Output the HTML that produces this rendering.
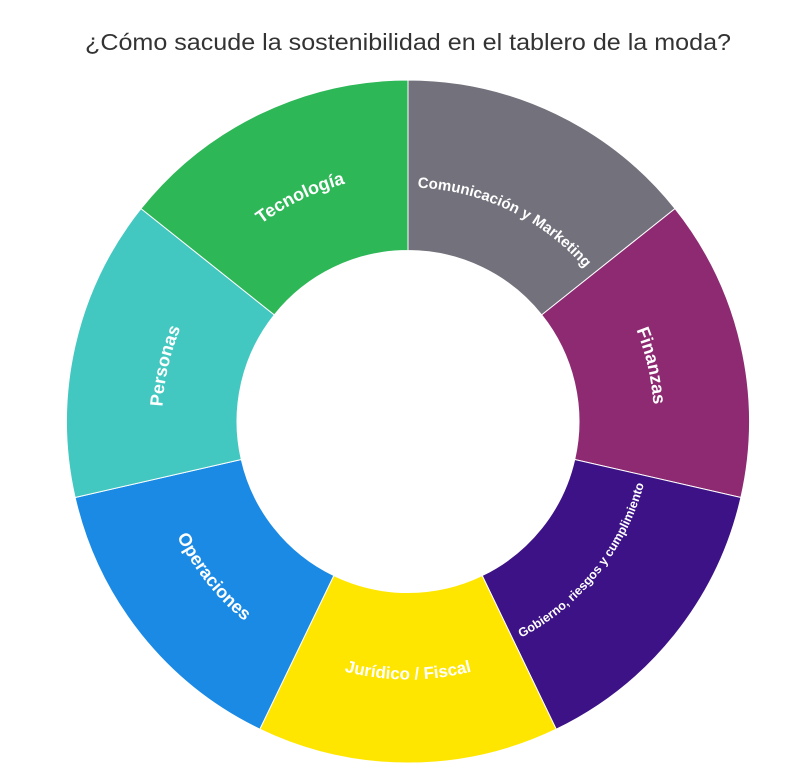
<!DOCTYPE html>
<html><head><meta charset="utf-8"><style>
html,body{margin:0;padding:0;background:#fff;}
svg{display:block;}
.l{fill:#fff;font-family:"Liberation Sans",sans-serif;font-weight:bold;}
</style></head><body>
<svg width="805" height="778" viewBox="0 0 805 778" xmlns="http://www.w3.org/2000/svg">
<text x="408" y="50" text-anchor="middle" font-family="'Liberation Sans',sans-serif" font-size="23" fill="#333" textLength="646" lengthAdjust="spacingAndGlyphs">¿Cómo sacude la sostenibilidad en el tablero de la moda?</text>
<g stroke="#fff" stroke-width="1">
<path d="M408,80 A341.5,341.5 0 0 1 675,208.6 L541.7,314.9 A171,171 0 0 0 408,250.5 Z" fill="#72717c"/>
<path d="M675,208.6 A341.5,341.5 0 0 1 740.9,497.5 L574.7,459.5 A171,171 0 0 0 541.7,314.9 Z" fill="#8e2a72"/>
<path d="M740.9,497.5 A341.5,341.5 0 0 1 556.2,729.2 L482.2,575.6 A171,171 0 0 0 574.7,459.5 Z" fill="#3c1286"/>
<path d="M556.2,729.2 A341.5,341.5 0 0 1 259.8,729.2 L333.8,575.6 A171,171 0 0 0 482.2,575.6 Z" fill="#ffe600"/>
<path d="M259.8,729.2 A341.5,341.5 0 0 1 75.1,497.5 L241.3,459.5 A171,171 0 0 0 333.8,575.6 Z" fill="#1a8ae4"/>
<path d="M75.1,497.5 A341.5,341.5 0 0 1 141,208.6 L274.3,314.9 A171,171 0 0 0 241.3,459.5 Z" fill="#42c8c0"/>
<path d="M141,208.6 A341.5,341.5 0 0 1 408,80 L408,250.5 A171,171 0 0 0 274.3,314.9 Z" fill="#2db757"/>
</g>
<defs>
<path id="p1" d="M175.8,340.2 A246,246 0 0 1 489.3,189.3"/>
<path id="p2" d="M330.7,200.6 A234,234 0 0 1 628.9,344.2"/>
<path id="p3" d="M538.7,213.1 A246,246 0 0 1 616.4,552.2"/>
<path id="p4" d="M199.6,552.2 A246,246 0 0 1 277.3,213.1"/>
<path id="p5" d="M225.6,603.9 A258,258 0 0 0 590.4,603.9"/>
<path id="p6" d="M151.6,392.7 A258,258 0 0 0 379.2,677.9"/>
<path id="p7" d="M435.2,664 A244,244 0 0 0 650.5,394.3"/>
</defs>
<text class="l" font-size="18"><textPath href="#p1" startOffset="50%" text-anchor="middle">Tecnología</textPath></text>
<text class="l" font-size="15"><textPath href="#p2" startOffset="50%" text-anchor="middle">Comunicación y Marketing</textPath></text>
<text class="l" font-size="18"><textPath href="#p3" startOffset="50%" text-anchor="middle">Finanzas</textPath></text>
<text class="l" font-size="18"><textPath href="#p4" startOffset="50%" text-anchor="middle">Personas</textPath></text>
<text class="l" font-size="17"><textPath href="#p5" startOffset="50%" text-anchor="middle">Jurídico / Fiscal</textPath></text>
<text class="l" font-size="18"><textPath href="#p6" startOffset="50%" text-anchor="middle">Operaciones</textPath></text>
<text class="l" font-size="12.5"><textPath href="#p7" startOffset="50%" text-anchor="middle">Gobierno, riesgos y cumplimiento</textPath></text>
</svg>
</body></html>
